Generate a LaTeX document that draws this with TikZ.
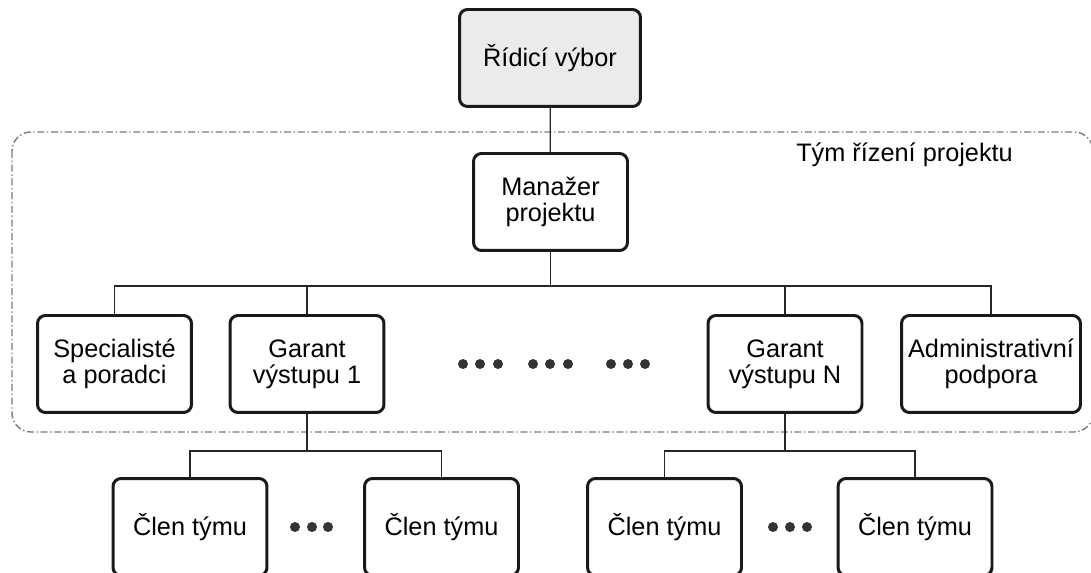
\documentclass[tikz,border=0pt]{standalone}
\usepackage{fontspec}
\setmainfont{Liberation Sans}
\usetikzlibrary{positioning, calc}

\definecolor{boxgray}{HTML}{EBEBEB}
\definecolor{framegray}{HTML}{7A7A7A}
\definecolor{dotgray}{HTML}{333333}

\begin{document}
\begin{tikzpicture}[
    x=0.02cm, y=-0.02cm,
    font=\fontsize{14.4pt}{15pt}\selectfont,
    orgbox/.style={draw=black!90, line width=1.7pt, rounded corners=0.16cm, align=center,
        minimum width=3.08cm, minimum height=1.94cm, inner sep=0pt, fill=white},
    topbox/.style={orgbox, fill=boxgray, minimum width=3.62cm},
    link/.style={line width=0.75pt, black!85},
    teamframe/.style={draw=framegray, line width=0.8pt, rounded corners=0.38cm,
        dash pattern=on 4pt off 1.5pt on 0.8pt off 1.5pt},
    bigdot/.style={fill=dotgray},
]
\useasboundingbox (0,0) rectangle (1091,573);

% Team frame
\draw[teamframe] (12,132) rectangle (1093,432);
\node[anchor=base east] (tym) at (1019,162) {Tým řízení projektu};

% Nodes
\node[topbox] (rv) at (550,58) {Řídicí výbor};
\node[orgbox] (mp) at (550.5,202) {Manažer\\projektu};

\node[orgbox] (sp) at (114.5,364) {Specialisté\\a poradci};
\node[orgbox] (g1) at (307,364) {Garant\\výstupu 1};
\node[orgbox] (gN) at (785,364) {Garant\\výstupu N};
\node[orgbox, minimum width=3.58cm] (ad) at (991,364) {Administrativní\\podpora};

\node[orgbox] (c11) at (190,527) {Člen týmu};
\node[orgbox] (c12) at (441.5,527) {Člen týmu};
\node[orgbox] (cN1) at (664.5,527) {Člen týmu};
\node[orgbox] (cN2) at (915,527) {Člen týmu};

% Dots
\foreach \x in {463,480,498,533,550,568,611,628,645}
    \fill[bigdot] (\x,364) circle (0.1cm);
\foreach \x in {295,312,328,773,790,807}
    \fill[bigdot] (\x,527) circle (0.1cm);

% Connectors
\draw[link] (rv) -- (mp);
\draw[link] (mp.south) -- ++(0,34) coordinate (bus);
\draw[link] (sp.north) |- (bus) -| (ad.north);
\draw[link] (g1.north) |- (bus);
\draw[link] (gN.north) |- (bus);

\draw[link] (g1.south) -- ++(0,37) coordinate (sub1);
\draw[link] (c11.north) |- (sub1) -| (c12.north);
\draw[link] (gN.south) -- ++(0,37) coordinate (subN);
\draw[link] (cN1.north) |- (subN) -| (cN2.north);

\end{tikzpicture}
\end{document}
